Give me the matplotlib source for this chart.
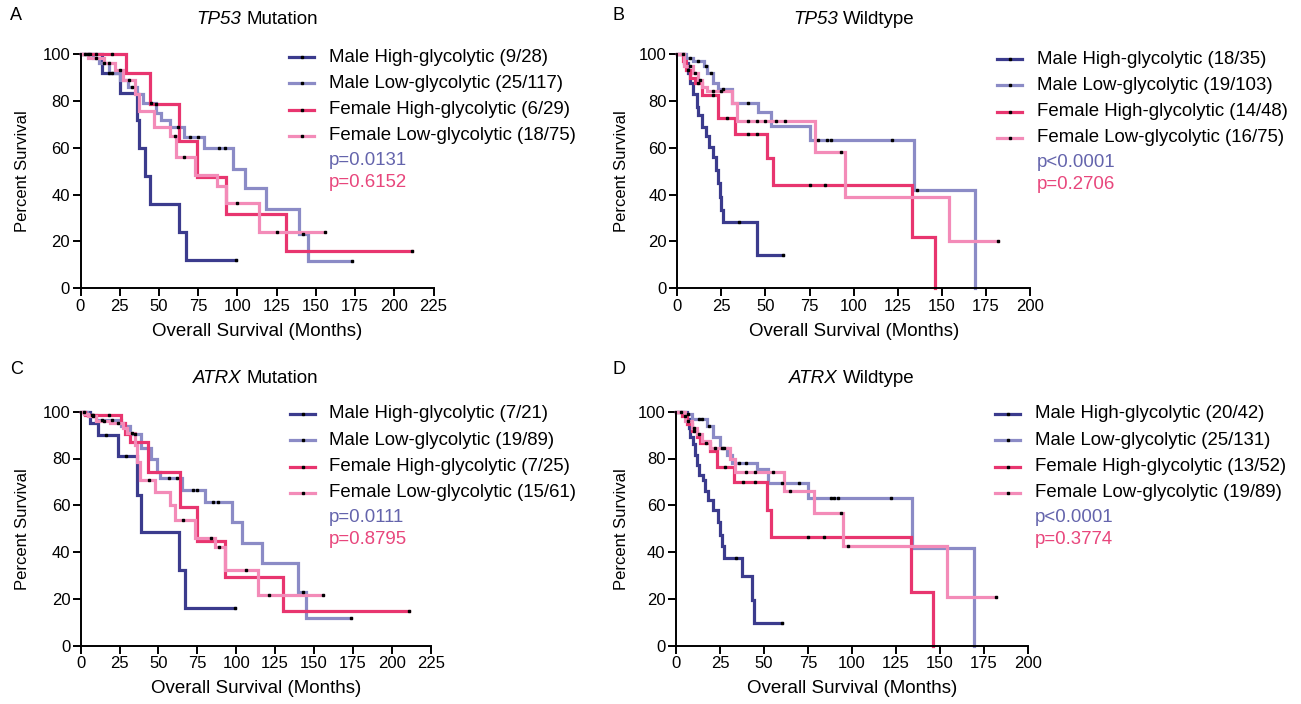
import numpy as np
import matplotlib
matplotlib.use("Agg")
import matplotlib.pyplot as plt
from matplotlib.lines import Line2D

plt.rcParams['font.family'] = ['Liberation Sans', 'DejaVu Sans']

W, H = 1301, 704

# ---------------- data ----------------
group_names = ["Male High-glycolytic", "Male Low-glycolytic",
               "Female High-glycolytic", "Female Low-glycolytic"]
colors = ["#3b3b8d", "#8b8bc6", "#e8356f", "#f38bb8"]
pval_colors = ["#6464ac", "#e8467c"]

# Panel A: TP53 Mutation
A_titles = ("TP53", "Mutation")
A_counts = ["(9/28)", "(25/117)", "(6/29)", "(18/75)"]
A_pvals = ["p=0.0131", "p=0.6152"]
A_mh_t = [14, 25, 36, 37, 41, 44, 63, 67]
A_mh_s = [92, 83.5, 72, 60, 48, 36, 24, 12]
A_mh_c = [5, 18, 99]
A_ml_t = [8, 12, 18, 25, 30, 36, 40, 48, 51, 57, 66, 79, 97, 105, 118, 139, 145]
A_ml_s = [98.5, 96, 92, 89, 86, 83, 79, 75, 72, 69, 64.5, 60, 51, 43, 34, 23, 11.5]
A_ml_c = [3, 6, 15, 20, 33, 45, 62, 70, 75, 88, 92, 142, 173]
A_fh_t = [29, 44, 63, 74, 93, 131]
A_fh_s = [91.7, 78.7, 63, 47.4, 31.6, 15.9]
A_fh_c = [10, 20, 48, 211]
A_fl_t = [5, 15, 22, 27, 35, 37, 47, 57, 61, 73, 87, 93, 114]
A_fl_s = [98.5, 96, 93, 89, 83, 75.5, 69, 65, 56, 48.5, 43.5, 36.3, 24.2]
A_fl_c = [10, 18, 25, 31, 60, 66, 100, 125, 156]

# Panel B: TP53 Wildtype
B_titles = ("TP53", "Wildtype")
B_counts = ["(18/35)", "(19/103)", "(14/48)", "(16/75)"]
B_pvals = ["p<0.0001", "p=0.2706"]
B_mh_t = [4, 6, 7, 9, 11, 12, 14, 16, 18, 20, 22, 23, 24, 25, 26, 45]
B_mh_s = [96, 92, 87.5, 83, 77.5, 74, 69, 65, 60.5, 56, 50.5, 45, 39, 33.4, 28.5, 14]
B_mh_c = [35, 60]
B_ml_t = [5, 9, 15, 17, 20, 23, 31, 46, 53, 75, 134, 169]
B_ml_s = [98.5, 97, 95, 91.7, 87.5, 85, 79, 75.4, 69.3, 63.3, 42, 0]
B_ml_c = [3, 7, 12, 16, 19, 26, 40, 80, 85, 87, 122, 136]
B_fh_t = [3, 5, 7, 10, 14, 23, 33, 51, 54, 133, 146]
B_fh_s = [97, 93, 89.6, 87.5, 82.5, 72.5, 66, 55.5, 44, 22, 0]
B_fh_c = [6, 12, 20, 28, 40, 45, 75, 84]
B_fl_t = [4, 9, 12, 14, 17, 31, 34, 78, 95, 154]
B_fl_s = [95, 91.7, 89, 86, 84, 79, 71.6, 58.3, 39, 20]
B_fl_c = [7, 10, 13, 20, 25, 40, 45, 50, 56, 61, 93, 182]

# Panel C: ATRX Mutation
C_titles = ("ATRX", "Mutation")
C_counts = ["(7/21)", "(19/89)", "(7/25)", "(15/61)"]
C_pvals = ["p=0.0111", "p=0.8795"]
C_mh_t = [6, 11, 24, 36, 39, 63, 67]
C_mh_s = [95, 90, 81, 64.4, 48.7, 32.3, 16]
C_mh_c = [16, 29, 99]
C_ml_t = [4, 10, 26, 32, 39, 45, 49, 51, 65, 80, 97, 103.5, 116.5, 140, 145]
C_ml_s = [98.6, 96.4, 94, 90.5, 84.3, 80, 74.4, 71.5, 66.5, 61.5, 53, 43.7, 35.2, 23, 11.7]
C_ml_c = [2, 7, 14, 20, 35, 57, 62, 72, 75, 85, 88, 143, 174]
C_fh_t = [3, 26, 28.5, 32, 43.5, 64, 74.6, 93, 130]
C_fh_s = [98.6, 95, 90.5, 87, 74.4, 59.4, 44.9, 29.5, 14.8]
C_fh_c = [8, 18, 211]
C_fl_t = [2, 5, 10, 19, 27.5, 30, 35, 36.5, 38, 48, 57.5, 60.5, 73.5, 86.5, 93, 114]
C_fl_s = [99, 98, 96, 95, 93, 90.8, 85.8, 78.6, 70.8, 65.8, 60.1, 53.7, 46.2, 42, 32.3, 21.7]
C_fl_c = [8, 15, 24, 33, 44, 66, 84, 89, 106, 121, 156]

# Panel D: ATRX Wildtype
D_titles = ("ATRX", "Wildtype")
D_counts = ["(20/42)", "(25/131)", "(13/52)", "(19/89)"]
D_pvals = ["p<0.0001", "p=0.3774"]
D_mh_t = [6, 7.6, 8, 9.5, 10.8, 11.7, 13.3, 15.5, 16.5, 18.4, 20.8, 24, 25, 26, 27, 37.3, 43, 44.3]
D_mh_s = [96.7, 93, 89, 86, 81.7, 77.4, 73, 71, 66, 62.4, 58, 53, 47.4, 42.4, 37.4, 29.6, 19.6, 9.6]
D_mh_c = [34, 60]
D_ml_t = [4, 9, 17.4, 21, 25, 29, 31.6, 46, 52.4, 75.2, 134.2, 169.2]
D_ml_s = [98.9, 97, 94, 89, 84.6, 81.7, 78, 75.3, 69.6, 63, 41.7, 0]
D_ml_c = [3, 7, 13, 15, 19, 27, 36, 40, 60, 70, 88, 90, 92, 122]
D_fh_t = [3.2, 6, 8.9, 11.7, 13.6, 19.3, 23.1, 32.9, 51.5, 54, 133.8, 146]
D_fh_s = [98, 94.6, 91.7, 89, 86.7, 83, 76.3, 70, 58, 46.3, 23, 0]
D_fh_c = [5, 10, 17, 28, 38, 45, 75, 84]
D_fl_t = [5.1, 8.9, 11.7, 14.6, 19.3, 30.7, 33.5, 61.3, 78.4, 95, 153.7]
D_fl_s = [96, 93, 90.3, 87.4, 84.6, 79.6, 74.3, 66, 56.7, 42.4, 21]
D_fl_c = [7, 10, 13, 22, 26, 40, 45, 55, 65, 94, 98, 182]

x_ticks_AC = list(range(0, 226, 25))
x_ticks_BD = list(range(0, 201, 25))
y_ticks = list(range(0, 101, 20))

panels = [
    dict(letter="A", titles=A_titles, counts=A_counts, pvals=A_pvals,
         series=[(A_mh_t, A_mh_s, A_mh_c), (A_ml_t, A_ml_s, A_ml_c),
                 (A_fh_t, A_fh_s, A_fh_c), (A_fl_t, A_fl_s, A_fl_c)],
         xticks=x_ticks_AC, box=(80.5, 54, 433.5, 288.3),
         leg=(289, 57, 329), letter_y=16, title_y=19, xl=10, ylab_x=23),
    dict(letter="B", titles=B_titles, counts=B_counts, pvals=B_pvals,
         series=[(B_mh_t, B_mh_s, B_mh_c), (B_ml_t, B_ml_s, B_ml_c),
                 (B_fh_t, B_fh_s, B_fh_c), (B_fl_t, B_fl_s, B_fl_c)],
         xticks=x_ticks_BD, box=(677.3, 54, 1030, 288.3),
         leg=(997, 59, 1037), letter_y=16, title_y=19, xl=612, ylab_x=621),
    dict(letter="C", titles=C_titles, counts=C_counts, pvals=C_pvals,
         series=[(C_mh_t, C_mh_s, C_mh_c), (C_ml_t, C_ml_s, C_ml_c),
                 (C_fh_t, C_fh_s, C_fh_c), (C_fl_t, C_fl_s, C_fl_c)],
         xticks=x_ticks_AC, box=(80.7, 411.7, 430.7, 645.7),
         leg=(290, 414, 329), letter_y=369, title_y=378, xl=10, ylab_x=23),
    dict(letter="D", titles=D_titles, counts=D_counts, pvals=D_pvals,
         series=[(D_mh_t, D_mh_s, D_mh_c), (D_ml_t, D_ml_s, D_ml_c),
                 (D_fh_t, D_fh_s, D_fh_c), (D_fl_t, D_fl_s, D_fl_c)],
         xticks=x_ticks_BD, box=(676, 411.7, 1028, 645.7),
         leg=(995, 414, 1035), letter_y=369, title_y=378, xl=612, ylab_x=621),
]

fig = plt.figure(figsize=(W / 100, H / 100), dpi=100)
TICK_FS = 12
LEG_FS = 13.4
LAB_FS = 13.5
YLAB_FS = 12
TITLE_FS = 13.5
LW = 2.3


def fx(px):
    return px / W


def fy(py):
    return 1 - py / H


def km_value(t, s, x):
    idx = np.searchsorted(np.asarray(t), x, side='right')
    vals = [100] + list(s)
    return vals[idx]


renderer = fig.canvas.get_renderer()

for p in panels:
    x0, y0, x1, y1 = p["box"]
    ax = fig.add_axes([fx(x0), fy(y1), fx(x1 - x0), (y1 - y0) / H])
    xmax = p["xticks"][-1]
    ax.set_xlim(0, xmax)
    ax.set_ylim(0, 100)
    for sp in ["top", "right"]:
        ax.spines[sp].set_visible(False)
    for sp in ["left", "bottom"]:
        ax.spines[sp].set_linewidth(1.4)
    ax.set_xticks(p["xticks"])
    ax.set_yticks(y_ticks)
    ax.tick_params(direction='out', length=5.5, width=1.4, labelsize=TICK_FS, pad=2)

    for (t, s, c), col in zip(p["series"], colors):
        end = max([t[-1]] + list(c))
        xs = [0] + list(t) + [end]
        ys = [100] + list(s) + [s[-1]]
        ax.step(xs, ys, where='post', color=col, lw=LW, clip_on=False,
                solid_joinstyle='miter')
        cy = [km_value(t, s, ci) for ci in c]
        ax.plot(c, cy, ls='none', marker='s', ms=2.0, color='black', clip_on=False, zorder=5)

    # axis labels
    fig.text(fx(p["ylab_x"]), fy((y0 + y1) / 2), "Percent Survival", rotation=90,
             ha='center', va='center', fontsize=YLAB_FS)
    fig.text(fx((x0 + x1) / 2), fy(y1 + 43), "Overall Survival (Months)",
             ha='center', va='center', fontsize=LAB_FS)
    # panel letter
    fig.text(fx(p["xl"]), fy(p["letter_y"]), p["letter"], ha='left', va='center', fontsize=13)
    # title: italic gene + normal rest, centred on axes
    gname, rest = p["titles"]
    cx = (x0 + x1) / 2
    t1 = fig.text(0, fy(p["title_y"]), gname, style='italic', ha='left', va='center', fontsize=TITLE_FS)
    t2 = fig.text(0, fy(p["title_y"]), rest, ha='left', va='center', fontsize=TITLE_FS)
    w1 = t1.get_window_extent(renderer).width
    w2 = t2.get_window_extent(renderer).width
    sp_w = 0.278 * TITLE_FS * 100 / 72
    start = cx - (w1 + sp_w + w2) / 2
    t1.set_x(fx(start))
    t2.set_x(fx(start + w1 + sp_w))

    # legend
    hx, hy, tx = p["leg"]
    for i, (g, cnt, col) in enumerate(zip(group_names, p["counts"], colors)):
        yy = hy + i * 26.3
        fig.add_artist(Line2D([fx(hx), fx(hx + 25)], [fy(yy), fy(yy)], color=col, lw=LW))
        fig.add_artist(Line2D([fx(hx + 12.5)], [fy(yy)], marker='s', ms=2.0, color='black', ls='none'))
        fig.text(fx(tx), fy(yy), g + " " + cnt, ha='left', va='center', fontsize=LEG_FS)
    for j, (pv, pc) in enumerate(zip(p["pvals"], pval_colors)):
        yy = hy + 4 * 26.3 - 1.5 + j * 22
        fig.text(fx(tx), fy(yy), pv, ha='left', va='center', fontsize=LEG_FS, color=pc)

fig.savefig("out.png", dpi=100)
